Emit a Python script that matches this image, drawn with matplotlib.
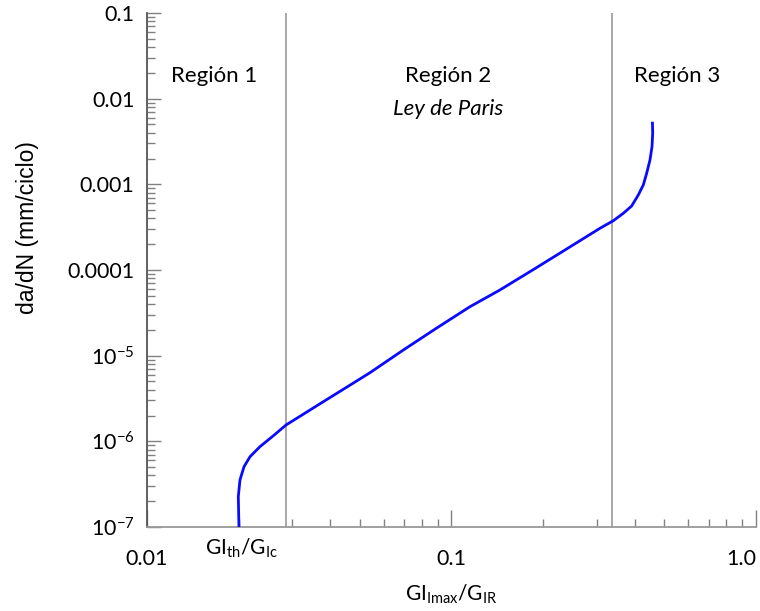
import numpy as np
import matplotlib
matplotlib.use("Agg")
import matplotlib.pyplot as plt
from matplotlib.ticker import LogLocator, NullFormatter

plt.rcParams['font.family'] = ['Lato', 'DejaVu Sans']
plt.rcParams['mathtext.fontset'] = 'custom'
plt.rcParams['mathtext.rm'] = 'Lato'
plt.rcParams['mathtext.it'] = 'Lato:italic'

# curve: G/Gc ratio vs crack growth rate
g_ratio = [0.02005, 0.02000, 0.01995, 0.02020, 0.02083, 0.02180, 0.02350, 0.02599,
           0.02861, 0.03793, 0.04942, 0.0540, 0.0695, 0.0894, 0.1150, 0.1443, 0.1679,
           0.1856, 0.2389, 0.3074, 0.3400, 0.3666, 0.3905, 0.4107, 0.4265, 0.4375,
           0.4486, 0.4556, 0.4579, 0.4570]
dadn = [1.0e-7, 1.445e-7, 2.26e-7, 3.54e-7, 5.06e-7, 6.62e-7, 8.67e-7, 1.16e-6,
        1.55e-6, 2.90e-6, 5.20e-6, 6.33e-6, 1.165e-5, 2.10e-5, 3.73e-5, 5.85e-5, 8.13e-5,
        1.01e-4, 1.76e-4, 3.07e-4, 3.76e-4, 4.59e-4, 5.58e-4, 7.51e-4, 9.82e-4, 1.345e-3,
        1.92e-3, 2.75e-3, 3.94e-3, 5.38e-3]

# region boundaries
bounds = [0.0286, 0.336]

region_labels = ["Región 1", "Región 2", "Región 3"]
region_x = [0.110, 0.494, 0.870]

y_ticks = [1e-7, 1e-6, 1e-5, 1e-4, 1e-3, 1e-2, 1e-1]
y_ticklabels = [r"$10^{-7}$", r"$10^{-6}$", r"$10^{-5}$", "0.0001", "0.001", "0.01", "0.1"]
x_ticks = [0.01, 0.1, 1.0]
x_ticklabels = ["0.01", "0.1", "1.0"]

fig = plt.figure(figsize=(7.6, 6.11), dpi=100)
ax = fig.add_axes([0.1934, 0.1375, 0.8013, 0.8412])

ax.set_xscale('log')
ax.set_yscale('log')
ax.set_xlim(0.01, 1.0)
ax.set_ylim(1e-7, 0.1)

for b in bounds:
    ax.axvline(b, color='#a0a0a0', lw=1.3, zorder=1)

ax.plot(g_ratio, dadn, color='#0a0aff', lw=2.0, zorder=3, solid_capstyle='butt')

for lab, xf in zip(region_labels, region_x):
    ax.text(xf, 0.877, lab, transform=ax.transAxes, ha='center', va='center', fontsize=16)
ax.text(0.494, 0.813, "Ley de Paris", transform=ax.transAxes, ha='center', va='center',
        fontsize=16, style='italic')

ax.text(0.0205, 7.6e-8, r"GI$_{\mathrm{th}}$/G$_{\mathrm{Ic}}$", ha='center', va='top', fontsize=15)

ax.set_yticks(y_ticks)
ax.set_yticklabels(y_ticklabels)
ax.set_xticks(x_ticks)
ax.set_xticklabels(x_ticklabels)
ax.get_xticklabels()[-1].set_horizontalalignment('right')
ax.yaxis.set_minor_locator(LogLocator(base=10, subs=np.arange(2, 10), numticks=20))
ax.xaxis.set_minor_locator(LogLocator(base=10, subs=np.arange(2, 10), numticks=20))
ax.yaxis.set_minor_formatter(NullFormatter())
ax.xaxis.set_minor_formatter(NullFormatter())

ax.tick_params(which='both', direction='in', colors='#808080', labelcolor='black', labelsize=15.5)
ax.tick_params(axis='y', which='major', length=10, width=1, pad=9)
ax.tick_params(axis='y', which='minor', length=6, width=1)
ax.tick_params(axis='x', which='major', length=12, width=1, pad=16)
ax.tick_params(axis='x', which='minor', length=6, width=1)

for s in ['top', 'right']:
    ax.spines[s].set_visible(False)
ax.spines['left'].set_color('#555555')
ax.spines['bottom'].set_color('#999999')
ax.spines['left'].set_linewidth(1.3)
ax.spines['bottom'].set_linewidth(1.3)

ax.set_xlabel(r"GI$_{\mathrm{Imax}}$/G$_{\mathrm{IR}}$", fontsize=15, labelpad=10)
ax.set_ylabel("da/dN (mm/ciclo)", fontsize=16.5, family=['Liberation Sans', 'DejaVu Sans'])
ax.yaxis.set_label_coords(-0.178, 0.582)

fig.savefig("out.png", dpi=100)
